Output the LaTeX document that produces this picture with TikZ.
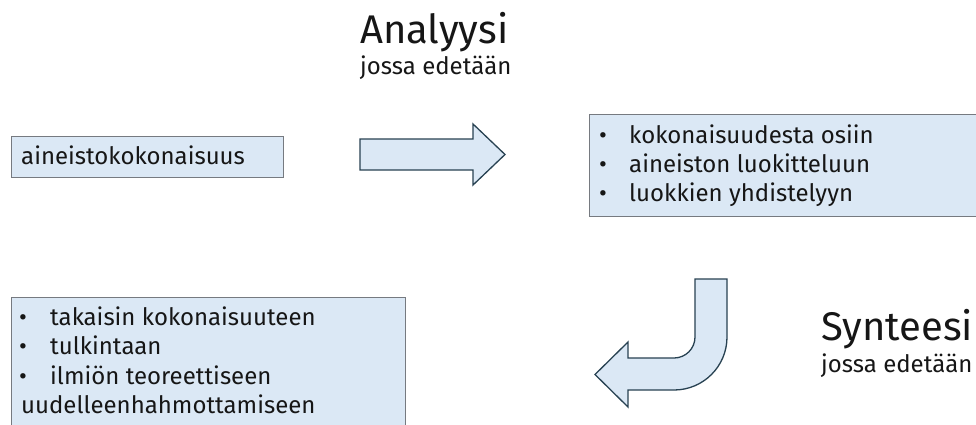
\documentclass[tikz,border=0pt]{standalone}
\usepackage{fontspec}
\setmainfont{Fira Sans}
\definecolor{panelfill}{RGB}{219,232,245}
\definecolor{panelline}{RGB}{118,122,128}
\definecolor{arrowline}{RGB}{40,66,82}
\definecolor{ink}{RGB}{22,22,22}
\tikzset{
  panel/.style={draw=panelline, fill=panelfill, line width=1.2pt, inner sep=0pt},
  blockarrow/.style={draw=arrowline, fill=panelfill, line width=1.3pt, line join=miter},
  body/.style={text=ink, font=\fontsize{24}{28}\selectfont, inner sep=0pt},
  bulletmark/.style={body, anchor=base},
  linetext/.style={body, anchor=base west},
  heading/.style={text=ink, font=\fontsize{40}{46}\selectfont, inner sep=0pt, anchor=base west},
  subheading/.style={text=ink, font=\fontsize{24}{28}\selectfont, inner sep=0pt, anchor=base west},
}
\begin{document}
\begin{tikzpicture}[x=1pt, y=-1pt]
\clip (0,0) rectangle (976,425);
\fill[white] (0,0) rectangle (976,425);

% headings
\node[heading] (anahead) at (360,44) {Analyysi};
\node[subheading] (anasub) at (360,75) {jossa edetään};
\node[heading] (synhead) at (821,340) {Synteesi};
\node[subheading] (synsub) at (821,372) {jossa edetään};

% material box
\node[panel, anchor=north west, minimum width=272pt, minimum height=41pt] (whole) at (11,136) {};
\node[linetext] (wholetext) at (21,164) {aineistokokonaisuus};

% analysis arrow
\draw[blockarrow] (360,139) -- (473,139) -- (473,124) -- (505,154.5)
  -- (473,185) -- (473,170) -- (360,170) -- cycle;

% analysis list
\node[panel, anchor=north west, minimum width=420pt, minimum height=102pt] (analysis) at (589,114) {};
\foreach \y/\t [count=\i] in {143/kokonaisuudesta osiin, 172/aineiston luokitteluun, 201/luokkien yhdistelyyn}{
  \node[bulletmark] (ab\i) at (603,\y) {•};
  \node[linetext] (at\i) at (629,\y) {\t};
}

% synthesis arrow (bent back to the left)
\draw[blockarrow] (695,279) -- (727,279) -- (727,337)
  arc[start angle=0, end angle=90, radius=53]
  -- (628,390) -- (628,407) -- (595,374.5) -- (628,342) -- (628,358) -- (674,358)
  arc[start angle=90, end angle=0, radius=21] -- cycle;

% synthesis list
\node[panel, anchor=north west, minimum width=394pt, minimum height=150pt] (synthesis) at (11,297) {};
\foreach \y/\t [count=\i] in {325/takaisin kokonaisuuteen, 354.5/tulkintaan, 384/ilmiön teoreettiseen}{
  \node[bulletmark] (sb\i) at (23,\y) {•};
  \node[linetext] (st\i) at (50,\y) {\t};
}
\node[linetext] (st4) at (21,413.5) {uudelleenhahmottamiseen};
\end{tikzpicture}
\end{document}
